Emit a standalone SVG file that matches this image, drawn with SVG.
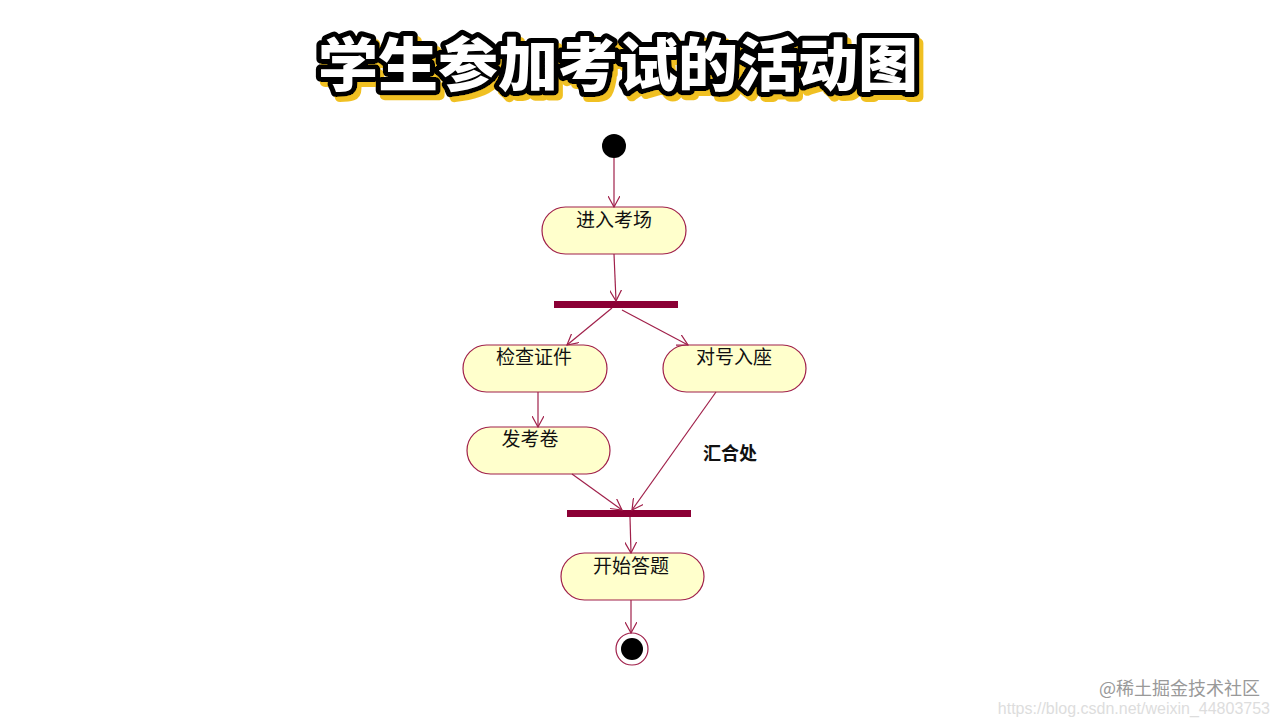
<svg xmlns="http://www.w3.org/2000/svg" width="1280" height="720" viewBox="0 0 1280 720">
<defs>
<marker id="arr" markerWidth="12" markerHeight="12" refX="11" refY="6" orient="auto" markerUnits="userSpaceOnUse">
<path d="M0,0 L11,6 L0,12" fill="none" stroke="#a0204a" stroke-width="1.2"/>
</marker>
<filter id="sh" x="-5%" y="-20%" width="110%" height="150%">
<feDropShadow dx="4" dy="5" stdDeviation="0" flood-color="#f0c020"/>
</filter>
</defs>
<style>
.act{fill:#ffffcc;stroke:#a0204a;stroke-width:1.2}
.lbl{font-family:"Liberation Sans","Noto Sans CJK SC",sans-serif;font-size:19px;fill:#111;text-anchor:middle}
.bar{fill:#8b0035}
.con line{stroke:#a0204a;stroke-width:1.2;marker-end:url(#arr)}
</style>
<rect width="1280" height="720" fill="#fff"/>
<text x="618" y="86" filter="url(#sh)" font-family="Noto Sans CJK SC,sans-serif" font-size="58" font-weight="900" text-anchor="middle" textLength="600" lengthAdjust="spacingAndGlyphs" fill="#fff" stroke="#000" stroke-width="10" stroke-linejoin="round" paint-order="stroke">学生参加考试的活动图</text>
<g id="start"><circle cx="614" cy="146" r="12" fill="#000"/></g>
<g id="n1"><rect class="act" x="542" y="207" width="144" height="47" rx="23.5"/><text class="lbl" x="614" y="227">进入考场</text></g>
<g id="fork"><rect class="bar" x="554" y="301" width="124" height="7"/></g>
<g id="n2"><rect class="act" x="463" y="345" width="144" height="47" rx="23.5"/><text class="lbl" x="534" y="364">检查证件</text></g>
<g id="n3"><rect class="act" x="663" y="345" width="143" height="47" rx="23.5"/><text class="lbl" x="734" y="364">对号入座</text></g>
<g id="n4"><rect class="act" x="467" y="427" width="143" height="47" rx="23.5"/><text class="lbl" x="530" y="446">发考卷</text></g>
<g id="join"><rect class="bar" x="567" y="510" width="124" height="7"/></g>
<g id="n5"><rect class="act" x="561" y="553" width="143" height="47" rx="23.5"/><text class="lbl" x="631" y="573">开始答题</text></g>
<g id="end"><circle cx="632" cy="649" r="16" fill="#fff" stroke="#a0204a" stroke-width="1.2"/><circle cx="632" cy="649" r="11" fill="#000"/></g>
<g class="con">
<line x1="614" y1="158" x2="614" y2="207"/>
<line x1="614" y1="254" x2="616" y2="301"/>
<line x1="612" y1="308" x2="567" y2="345"/>
<line x1="622" y1="310" x2="688" y2="345"/>
<line x1="538" y1="392" x2="538" y2="427"/>
<line x1="716" y1="392" x2="632" y2="510"/>
<line x1="572" y1="474" x2="622" y2="510"/>
<line x1="630" y1="517" x2="631" y2="553"/>
<line x1="631" y1="600" x2="631" y2="633"/>
</g>
<text x="730" y="460" font-family="Noto Sans CJK SC,sans-serif" font-size="18" font-weight="bold" text-anchor="middle" fill="#111">汇合处</text>
<text x="1270" y="714" font-family="Liberation Sans,sans-serif" font-size="16" text-anchor="end" fill="#ddd">https://blog.csdn.net/weixin_44803753</text>
<text x="1260" y="695" font-family="Noto Sans CJK SC,sans-serif" font-size="18" text-anchor="end" fill="#999">@稀土掘金技术社区</text>
</svg>
